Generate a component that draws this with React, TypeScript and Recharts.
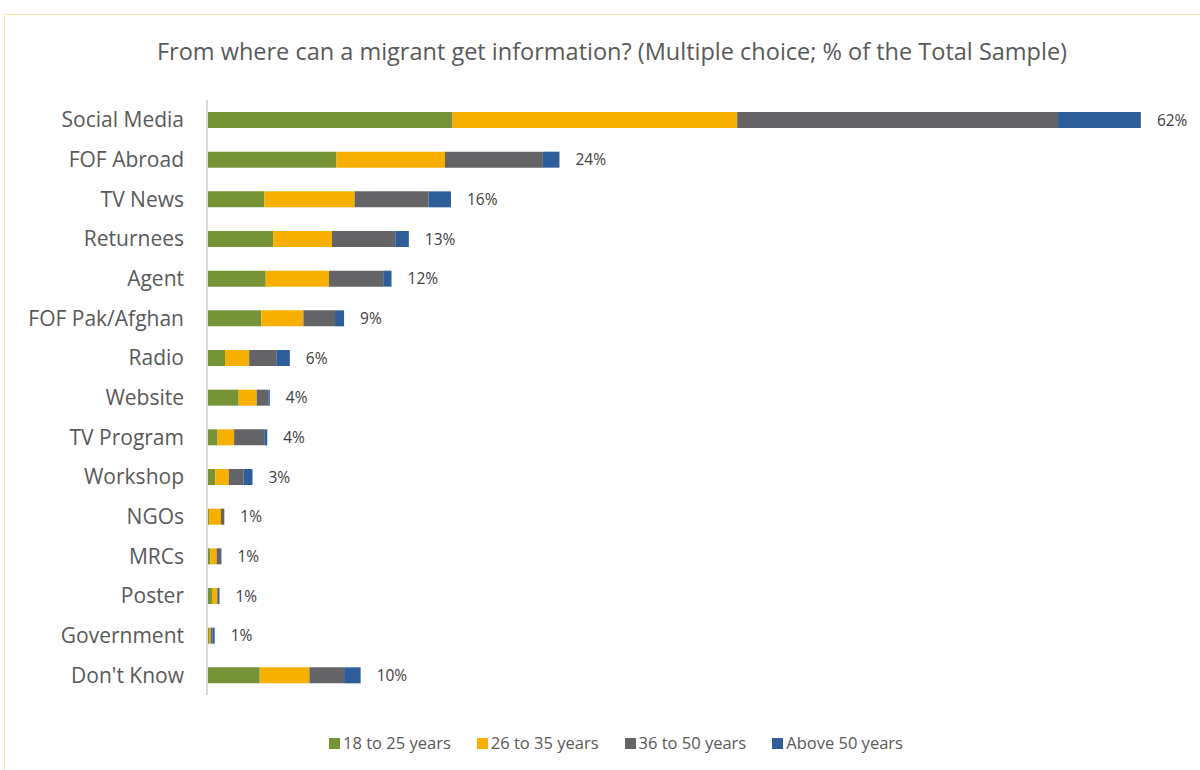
import { BarChart, Bar, XAxis, YAxis, Legend, LabelList } from 'recharts'

const categories = [
  'Social Media', 'FOF Abroad', 'TV News', 'Returnees', 'Agent', 'FOF Pak/Afghan', 'Radio',
  'Website', 'TV Program', 'Workshop', 'NGOs', 'MRCs', 'Poster', 'Government', "Don't Know",
]
const age18to25 = [16.3, 8.6, 3.8, 4.4, 3.9, 3.6, 1.2, 2.1, 0.7, 0.55, 0.13, 0.22, 0.33, 0.13, 3.5]
const age26to35 = [18.9, 7.2, 6.0, 3.9, 4.2, 2.8, 1.6, 1.2, 1.1, 0.9, 0.8, 0.42, 0.35, 0.1, 3.3]
const age36to50 = [21.3, 6.5, 4.9, 4.2, 3.6, 2.1, 1.8, 0.77, 2.0, 0.97, 0.2, 0.3, 0.05, 0.13, 2.3]
const above50 = [5.5, 1.1, 1.5, 0.9, 0.55, 0.6, 0.9, 0.1, 0.2, 0.6, 0.02, 0.02, 0.1, 0.15, 1.1]
const totalLabels = ['62%', '24%', '16%', '13%', '12%', '9%', '6%', '4%', '4%', '3%', '1%', '1%', '1%', '1%', '10%']

const series = [
  { key: 'a', name: '18 to 25 years', color: '#779338' },
  { key: 'b', name: '26 to 35 years', color: '#F8B000' },
  { key: 'c', name: '36 to 50 years', color: '#646466' },
  { key: 'd', name: 'Above 50 years', color: '#2D5E99' },
]

const data = categories.map((name, i) => ({
  name,
  a: age18to25[i],
  b: age26to35[i],
  c: age36to50[i],
  d: above50[i],
  label: totalLabels[i],
}))

const FONT = '"Open Sans", Lato, sans-serif'

function LegendContent() {
  return (
    <div style={{ height: 62, display: 'flex', justifyContent: 'center', alignItems: 'flex-end', fontFamily: FONT, paddingLeft: 61, paddingBottom: 3, boxSizing: 'border-box' }}>
      {series.map((s) => (
        <div key={s.key} style={{ display: 'flex', alignItems: 'center', margin: '0 13px', fontSize: 16.5, color: '#595959', lineHeight: '22px' }}>
          <span style={{ width: 11, height: 11, background: s.color, display: 'inline-block', marginRight: 3 }} />
          {s.name}
        </div>
      ))}
    </div>
  )
}

export default function App() {
  return (
    <div style={{ position: 'absolute', left: 0, top: 0, width: 1200, height: 770, background: '#fff' }}>
      <div style={{ position: 'absolute', left: 4, top: 14, width: 1200, height: 770, border: '1px solid #FFE2A8', boxSizing: 'border-box' }} />
      <div style={{ position: 'absolute', left: 0, top: 35, width: 1224, textAlign: 'center', fontFamily: FONT, fontSize: 23.5, color: '#595959' }}>
        From where can a migrant get information? (Multiple choice; % of the Total Sample)
      </div>
      <div style={{ position: 'absolute', left: 0, top: 0 }}>
        <BarChart
          width={1200}
          height={770}
          data={data}
          layout="vertical"
          margin={{ top: 100, right: 29, bottom: 13, left: 0 }}
          barSize={16}
        >
          <XAxis type="number" domain={[0, 64]} hide />
          <YAxis
            type="category"
            dataKey="name"
            width={207}
            axisLine={{ stroke: '#D9D9D9', strokeWidth: 2 }}
            tickLine={false}
            tickMargin={17}
            tick={{ fill: '#595959', fontSize: 21, fontFamily: FONT }}
          />
          <Legend verticalAlign="bottom" content={<LegendContent />} />
          {series.map((s, idx) => (
            <Bar key={s.key} dataKey={s.key} name={s.name} stackId="x" fill={s.color} isAnimationActive={false}>
              {idx === series.length - 1 && (
                <LabelList dataKey="label" position="right" offset={16} fill="#404040" fontSize={15.5} fontFamily={FONT} />
              )}
            </Bar>
          ))}
        </BarChart>
      </div>
    </div>
  )
}
